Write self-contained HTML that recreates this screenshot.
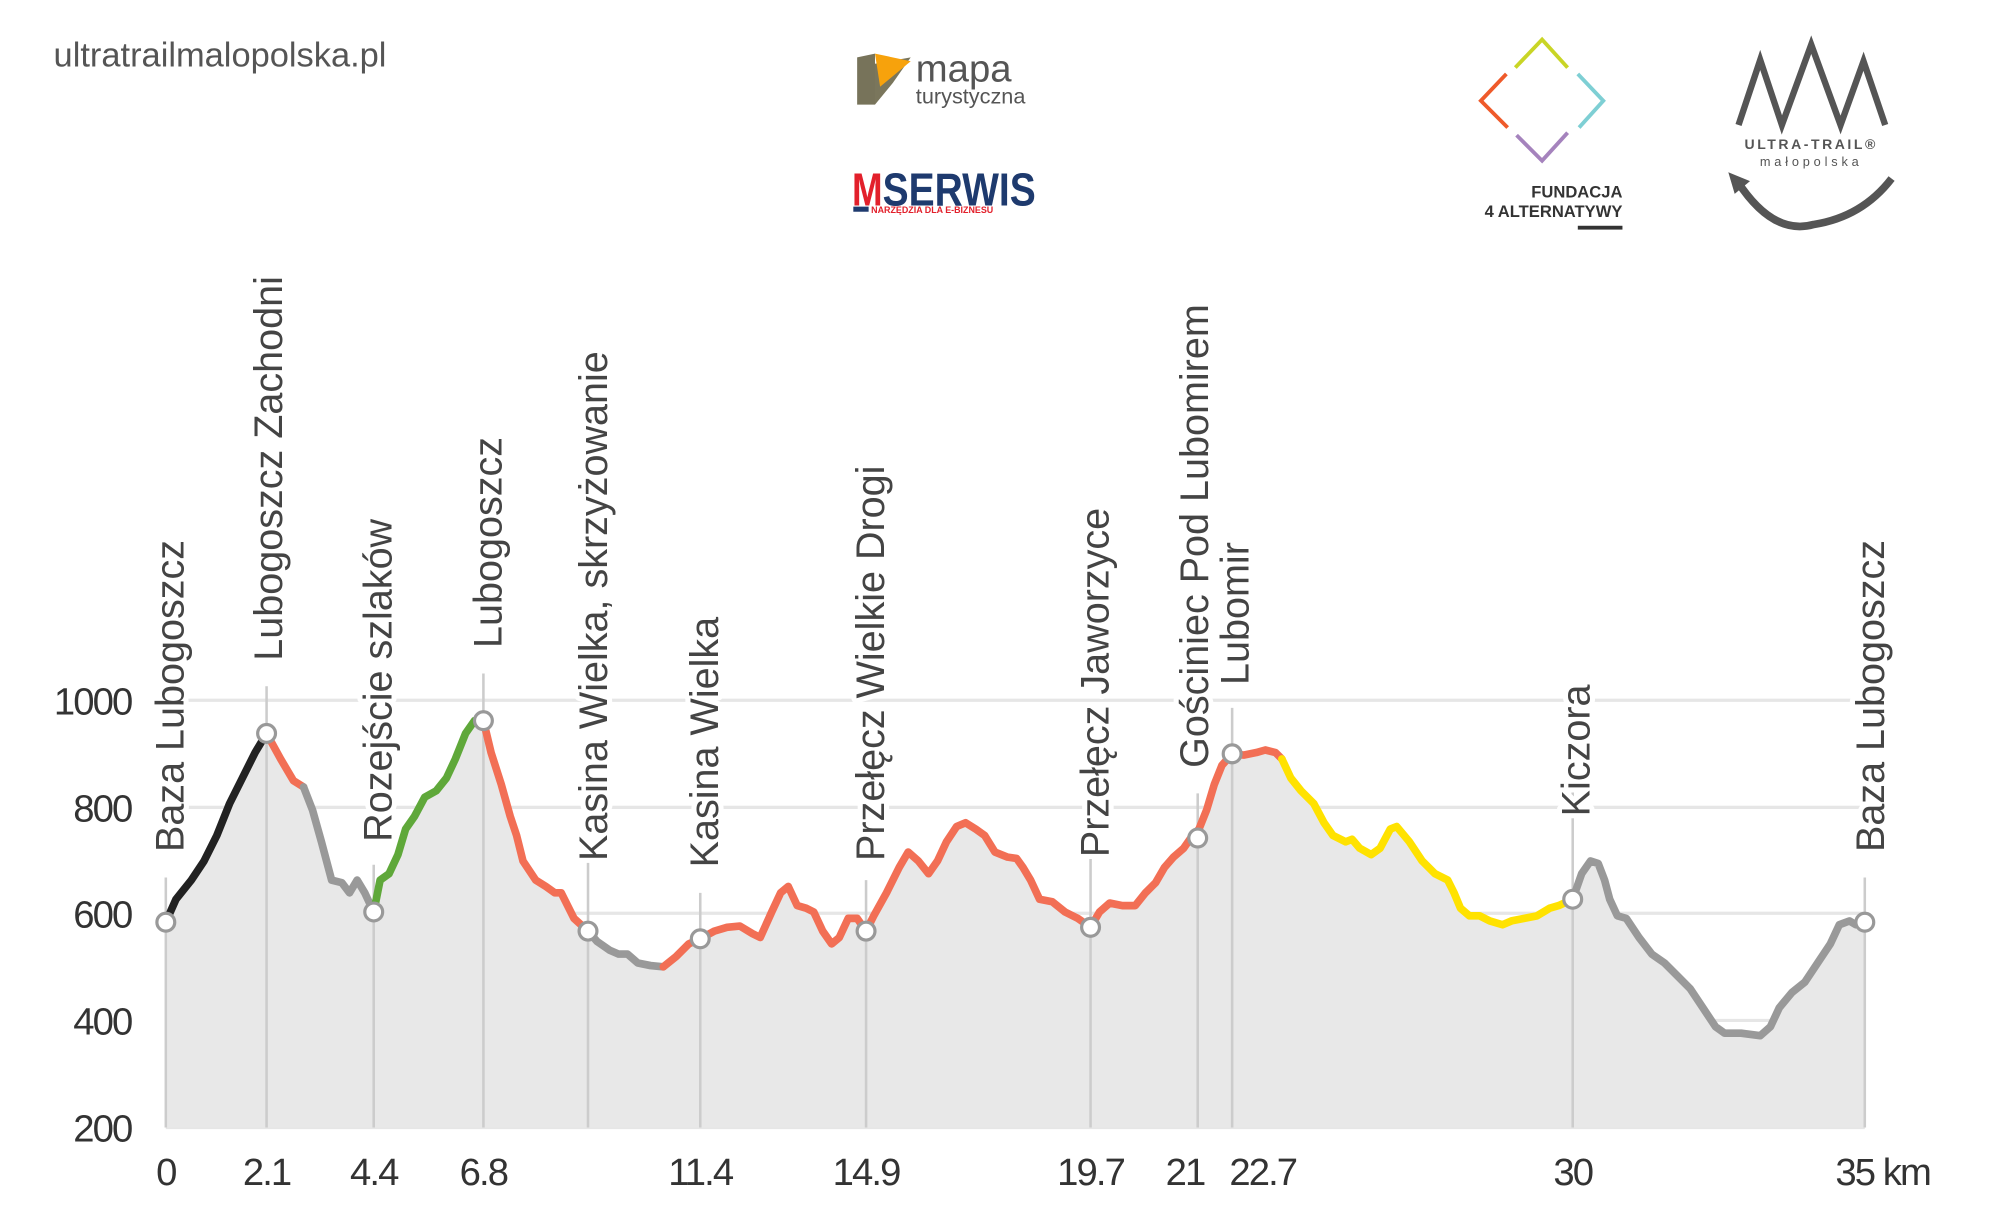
<!DOCTYPE html>
<html><head><meta charset="utf-8"><style>
html,body{margin:0;padding:0;background:#fff;}
svg{display:block;}
text{font-family:"Liberation Sans",sans-serif;}
</style></head><body>
<svg width="2000" height="1206" viewBox="0 0 1568 945.5" xmlns="http://www.w3.org/2000/svg">
<rect width="1568" height="946" fill="#fff"/>
<text x="42" y="52" font-size="27" fill="#555">ultratrailmalopolska.pl</text>
<!-- mapa turystyczna -->
<polygon points="672,45 686,42 686,82 672,82" fill="#77735a"/>
<polygon points="686,50 714,45 700,65 686,82" fill="#7a765c"/>
<polygon points="686,42 714,48 690,68" fill="#f7a20c"/>
<text x="718" y="64" font-size="30" fill="#555">mapa</text>
<text x="718" y="81" font-size="17" fill="#555">turystyczna</text>
<!-- MSERWIS -->
<text x="668" y="161" font-size="36" font-weight="bold" fill="#e2202b" textLength="24" lengthAdjust="spacingAndGlyphs">M</text>
<text x="692" y="161" font-size="36" font-weight="bold" fill="#1e3a6e" textLength="120" lengthAdjust="spacingAndGlyphs">SERWIS</text>
<text x="683" y="167" font-size="7" font-weight="bold" fill="#e2202b">NARZĘDZIA DLA E-BIZNESU</text>
<rect x="669" y="162" width="12" height="4" fill="#1e3a6e"/>
<!-- Fundacja diamond -->
<g stroke-width="3" fill="none">
<polyline points="1188,53 1209,31 1229,53" stroke="#c9d526"/>
<polyline points="1237,58 1257,79 1238,100" stroke="#7ecfd4"/>
<polyline points="1229,104 1209,126 1189,106" stroke="#a583bd"/>
<polyline points="1182,100 1161,79 1181,58" stroke="#ef5a2a"/>
</g>
<text x="1272" y="155" font-size="13" font-weight="bold" fill="#333" text-anchor="end">FUNDACJA</text>
<text x="1272" y="170" font-size="13" font-weight="bold" fill="#333" text-anchor="end">4 ALTERNATYWY</text>
<rect x="1237" y="177" width="35" height="3" fill="#333"/>
<!-- Ultra trail -->
<polyline points="1363,98 1380,47 1397,98 1420,35 1443,98 1461,48 1478,98" fill="none" stroke="#555" stroke-width="5"/>
<text x="1420" y="117" font-size="11" font-weight="bold" fill="#555" text-anchor="middle" letter-spacing="2">ULTRA-TRAIL®</text>
<text x="1420" y="130" font-size="10" fill="#555" text-anchor="middle" letter-spacing="3">małopolska</text>
<path d="M1362,142 Q1390,185 1422,176 Q1460,170 1483,140" fill="none" stroke="#555" stroke-width="6"/>
<polygon points="1355,135 1372,142 1360,152" fill="#555"/>

<!-- gridlines -->
<g stroke="#e6e6e6" stroke-width="2.5">
<line x1="130" x2="1462" y1="549" y2="549"/><line x1="130" x2="1462" y1="633" y2="633"/>
<line x1="130" x2="1462" y1="716" y2="716"/><line x1="130" x2="1462" y1="800" y2="800"/>
<line x1="130" x2="1462" y1="884" y2="884"/>
</g>
<!-- area -->
<path fill="#e8e8e8" d="M130,884 L130,723 138,705 150,690 160,675 170,655 180,630 190,610 200,590 209,575 220,595 230,612 238,617 245,635 252,660 260,690 268,692 274,700 280,690 286,700 293,715 298,690 305,685 312,670 318,650 325,640 333,625 342,620 350,610 357,595 365,575 372,565 379,565 385,590 393,615 400,640 405,655 410,675 420,690 428,695 435,700 440,700 445,710 450,720 461,730 468,738 478,745 485,748 492,748 500,755 510,757 520,758 530,750 540,740 549,736 560,730 570,727 580,726 590,732 596,735 605,715 612,700 618,695 625,710 632,712 638,715 645,730 652,740 658,735 665,720 672,720 679,730 685,718 695,700 705,680 712,668 720,675 728,685 735,675 742,660 750,648 757,645 765,650 772,655 780,668 790,672 797,673 802,680 808,690 815,705 825,707 835,715 845,720 855,727 862,715 870,708 880,710 890,710 898,700 906,692 913,680 920,672 928,665 935,655 940,650 946,635 952,615 958,600 966,591 975,592 985,590 992,588 1000,590 1005,595 1012,610 1020,620 1030,630 1038,645 1045,655 1055,660 1060,658 1066,665 1075,670 1082,665 1090,650 1095,648 1105,660 1115,675 1125,685 1135,690 1140,700 1145,712 1152,718 1160,718 1168,722 1178,725 1185,722 1195,720 1205,718 1215,712 1222,710 1233,705 1240,685 1247,675 1253,677 1258,690 1262,705 1268,718 1275,720 1285,735 1295,748 1305,755 1315,765 1325,775 1335,790 1345,805 1352,810 1365,810 1380,812 1388,805 1395,790 1405,778 1415,770 1425,755 1435,740 1442,725 1450,722 1455,725 1462,723 L1462,884 Z"/>
<!-- vertical lines -->
<g stroke="#cccccc" stroke-width="2">
<line x1="130" x2="130" y1="688" y2="884"/><line x1="209" x2="209" y1="538" y2="884"/>
<line x1="293" x2="293" y1="678" y2="884"/><line x1="379" x2="379" y1="528" y2="884"/>
<line x1="461" x2="461" y1="673" y2="884"/><line x1="549" x2="549" y1="700" y2="884"/>
<line x1="679" x2="679" y1="690" y2="884"/><line x1="855" x2="855" y1="672" y2="884"/>
<line x1="939" x2="939" y1="622" y2="884"/><line x1="966" x2="966" y1="555" y2="884"/>
<line x1="1233" x2="1233" y1="550" y2="884"/><line x1="1462" x2="1462" y1="688" y2="884"/>
</g>
<!-- series -->
<g fill="none" stroke-width="6" stroke-linejoin="round" stroke-linecap="round">
<polyline stroke="#222" points="130,723 138,705 150,690 160,675 170,655 180,630 190,610 200,590 209,575"/>
<polyline stroke="#f26f55" points="209,575 220,595 230,612 238,617"/>
<polyline stroke="#999" points="238,617 245,635 252,660 260,690 268,692 274,700 280,690 286,700 293,715"/>
<polyline stroke="#5fa83a" points="293,715 298,690 305,685 312,670 318,650 325,640 333,625 342,620 350,610 357,595 365,575 372,565 379,565"/>
<polyline stroke="#f26f55" points="379,565 385,590 393,615 400,640 405,655 410,675 420,690 428,695 435,700 440,700 445,710 450,720 461,730"/>
<polyline stroke="#999" points="461,730 468,738 478,745 485,748 492,748 500,755 510,757 520,758"/>
<polyline stroke="#f26f55" points="520,758 530,750 540,740 549,736 560,730 570,727 580,726 590,732 596,735 605,715 612,700 618,695 625,710 632,712 638,715 645,730 652,740 658,735 665,720 672,720 679,730 685,718 695,700 705,680 712,668 720,675 728,685 735,675 742,660 750,648 757,645 765,650 772,655 780,668 790,672 797,673 802,680 808,690 815,705 825,707 835,715 845,720 855,727 862,715 870,708 880,710 890,710 898,700 906,692 913,680 920,672 928,665 935,655 940,650 946,635 952,615 958,600 966,591 975,592 985,590 992,588 1000,590 1005,595"/>
<polyline stroke="#ffe200" points="1005,595 1012,610 1020,620 1030,630 1038,645 1045,655 1055,660 1060,658 1066,665 1075,670 1082,665 1090,650 1095,648 1105,660 1115,675 1125,685 1135,690 1140,700 1145,712 1152,718 1160,718 1168,722 1178,725 1185,722 1195,720 1205,718 1215,712 1222,710 1233,705"/>
<polyline stroke="#999" points="1233,705 1240,685 1247,675 1253,677 1258,690 1262,705 1268,718 1275,720 1285,735 1295,748 1305,755 1315,765 1325,775 1335,790 1345,805 1352,810 1365,810 1380,812 1388,805 1395,790 1405,778 1415,770 1425,755 1435,740 1442,725 1450,722 1455,725 1462,723"/>
</g>
<!-- markers -->
<g fill="#fff" stroke="#999" stroke-width="2.5">
<circle cx="130" cy="723" r="7"/><circle cx="209" cy="575" r="7"/><circle cx="293" cy="715" r="7"/>
<circle cx="379" cy="565" r="7"/><circle cx="461" cy="730" r="7"/><circle cx="549" cy="736" r="7"/>
<circle cx="679" cy="730" r="7"/><circle cx="855" cy="727" r="7"/><circle cx="939" cy="657" r="7"/>
<circle cx="966" cy="591" r="7"/><circle cx="1233" cy="705" r="7"/><circle cx="1462" cy="723" r="7"/>
</g>
<!-- station labels -->
<g font-size="31" fill="#444" stroke="#fff" stroke-width="8" paint-order="stroke" stroke-linejoin="round">
<text transform="translate(144,668) rotate(-90)">Baza Lubogoszcz</text>
<text transform="translate(221,518) rotate(-90)">Lubogoszcz Zachodni</text>
<text transform="translate(307,660) rotate(-90)">Rozejście szlaków</text>
<text transform="translate(393,508) rotate(-90)">Lubogoszcz</text>
<text transform="translate(476,675) rotate(-90)">Kasina Wielka, skrzyżowanie</text>
<text transform="translate(563,680) rotate(-90)">Kasina Wielka</text>
<text transform="translate(693,675) rotate(-90)">Przełęcz Wielkie Drogi</text>
<text transform="translate(869,672) rotate(-90)">Przełęcz Jaworzyce</text>
<text transform="translate(947,602) rotate(-90)">Gościniec Pod Lubomirem</text>
<text transform="translate(979,537) rotate(-90)">Lubomir</text>
<text transform="translate(1246,640) rotate(-90)">Kiczora</text>
<text transform="translate(1477,668) rotate(-90)">Baza Lubogoszcz</text>
</g>
<!-- y axis labels -->
<g font-size="30" fill="#333" text-anchor="end" letter-spacing="-1.5">
<text x="103" y="560">1000</text><text x="103" y="644">800</text><text x="103" y="727">600</text>
<text x="103" y="811">400</text><text x="103" y="895">200</text>
</g>
<!-- x axis labels -->
<g font-size="30" fill="#333" text-anchor="middle" letter-spacing="-1.5">
<text x="130" y="929">0</text><text x="209" y="929">2.1</text><text x="293" y="929">4.4</text>
<text x="379" y="929">6.8</text><text x="549" y="929">11.4</text><text x="679" y="929">14.9</text>
<text x="855" y="929">19.7</text><text x="929" y="929">21</text><text x="990" y="929">22.7</text>
<text x="1233" y="929">30</text><text x="1476" y="929">35 km</text>
</g>
</svg>
</body></html>
